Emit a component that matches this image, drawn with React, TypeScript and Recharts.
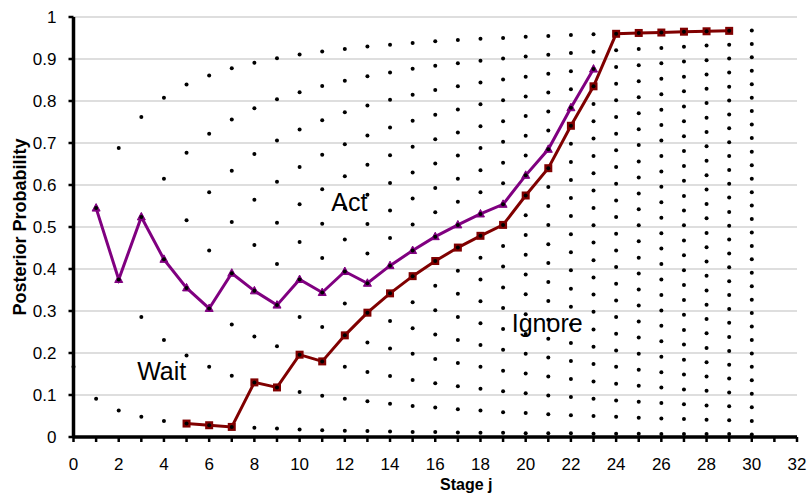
import React from 'react';
import { ComposedChart, Line, Scatter, XAxis, YAxis, CartesianGrid, ReferenceDot } from 'recharts';

// posterior probabilities reachable at each stage j (index = j)
const stageDots: number[][] = [
  [0.167],
  [0.091, 0.545],
  [0.063, 0.375, 0.688],
  [0.048, 0.286, 0.524, 0.762],
  [0.038, 0.231, 0.423, 0.615, 0.808],
  [0.032, 0.194, 0.355, 0.516, 0.677, 0.839],
  [0.028, 0.167, 0.306, 0.444, 0.583, 0.722, 0.861],
  [0.024, 0.146, 0.268, 0.39, 0.512, 0.634, 0.756, 0.878],
  [0.022, 0.13, 0.239, 0.348, 0.457, 0.565, 0.674, 0.783, 0.891],
  [0.02, 0.118, 0.216, 0.314, 0.412, 0.51, 0.608, 0.706, 0.804, 0.902],
  [0.018, 0.107, 0.196, 0.286, 0.375, 0.464, 0.554, 0.643, 0.732, 0.821, 0.911],
  [0.016, 0.098, 0.18, 0.262, 0.344, 0.426, 0.508, 0.59, 0.672, 0.754, 0.836, 0.918],
  [0.015, 0.091, 0.167, 0.242, 0.318, 0.394, 0.47, 0.545, 0.621, 0.697, 0.773, 0.848, 0.924],
  [0.014, 0.085, 0.155, 0.225, 0.296, 0.366, 0.437, 0.507, 0.577, 0.648, 0.718, 0.789, 0.859, 0.93],
  [0.013, 0.079, 0.145, 0.211, 0.276, 0.342, 0.408, 0.474, 0.539, 0.605, 0.671, 0.737, 0.803, 0.868, 0.934],
  [0.012, 0.074, 0.136, 0.198, 0.259, 0.321, 0.383, 0.444, 0.506, 0.568, 0.63, 0.691, 0.753, 0.815, 0.877, 0.938],
  [0.012, 0.07, 0.128, 0.186, 0.244, 0.302, 0.36, 0.419, 0.477, 0.535, 0.593, 0.651, 0.709, 0.767, 0.826, 0.884, 0.942],
  [0.011, 0.066, 0.121, 0.176, 0.231, 0.286, 0.341, 0.396, 0.451, 0.505, 0.56, 0.615, 0.67, 0.725, 0.78, 0.835, 0.89, 0.945],
  [0.01, 0.063, 0.115, 0.167, 0.219, 0.271, 0.323, 0.375, 0.427, 0.479, 0.531, 0.583, 0.635, 0.688, 0.74, 0.792, 0.844, 0.896, 0.948],
  [0.01, 0.059, 0.109, 0.158, 0.208, 0.257, 0.307, 0.356, 0.406, 0.455, 0.505, 0.554, 0.604, 0.653, 0.703, 0.752, 0.802, 0.851, 0.901, 0.95],
  [0.009, 0.057, 0.104, 0.151, 0.198, 0.245, 0.292, 0.34, 0.387, 0.434, 0.481, 0.528, 0.575, 0.623, 0.67, 0.717, 0.764, 0.811, 0.858, 0.906, 0.953],
  [0.009, 0.054, 0.099, 0.144, 0.189, 0.234, 0.279, 0.324, 0.369, 0.414, 0.459, 0.505, 0.55, 0.595, 0.64, 0.685, 0.73, 0.775, 0.82, 0.865, 0.91, 0.955],
  [0.009, 0.052, 0.095, 0.138, 0.181, 0.224, 0.267, 0.31, 0.353, 0.397, 0.44, 0.483, 0.526, 0.569, 0.612, 0.655, 0.698, 0.741, 0.784, 0.828, 0.871, 0.914, 0.957],
  [0.008, 0.05, 0.091, 0.132, 0.174, 0.215, 0.256, 0.298, 0.339, 0.38, 0.421, 0.463, 0.504, 0.545, 0.587, 0.628, 0.669, 0.711, 0.752, 0.793, 0.835, 0.876, 0.917, 0.959],
  [0.008, 0.048, 0.087, 0.127, 0.167, 0.206, 0.246, 0.286, 0.325, 0.365, 0.405, 0.444, 0.484, 0.524, 0.563, 0.603, 0.643, 0.683, 0.722, 0.762, 0.802, 0.841, 0.881, 0.921, 0.96],
  [0.008, 0.046, 0.084, 0.122, 0.16, 0.198, 0.237, 0.275, 0.313, 0.351, 0.389, 0.427, 0.466, 0.504, 0.542, 0.58, 0.618, 0.656, 0.695, 0.733, 0.771, 0.809, 0.847, 0.885, 0.924, 0.962],
  [0.007, 0.044, 0.081, 0.118, 0.154, 0.191, 0.228, 0.265, 0.301, 0.338, 0.375, 0.412, 0.449, 0.485, 0.522, 0.559, 0.596, 0.632, 0.669, 0.706, 0.743, 0.779, 0.816, 0.853, 0.89, 0.926, 0.963],
  [0.007, 0.043, 0.078, 0.113, 0.149, 0.184, 0.22, 0.255, 0.291, 0.326, 0.362, 0.397, 0.433, 0.468, 0.504, 0.539, 0.574, 0.61, 0.645, 0.681, 0.716, 0.752, 0.787, 0.823, 0.858, 0.894, 0.929, 0.965],
  [0.007, 0.041, 0.075, 0.11, 0.144, 0.178, 0.212, 0.247, 0.281, 0.315, 0.349, 0.384, 0.418, 0.452, 0.486, 0.521, 0.555, 0.589, 0.623, 0.658, 0.692, 0.726, 0.76, 0.795, 0.829, 0.863, 0.897, 0.932, 0.966],
  [0.007, 0.04, 0.073, 0.106, 0.139, 0.172, 0.205, 0.238, 0.272, 0.305, 0.338, 0.371, 0.404, 0.437, 0.47, 0.503, 0.536, 0.57, 0.603, 0.636, 0.669, 0.702, 0.735, 0.768, 0.801, 0.834, 0.868, 0.901, 0.934, 0.967],
  [0.006, 0.038, 0.071, 0.103, 0.135, 0.167, 0.199, 0.231, 0.263, 0.295, 0.327, 0.359, 0.391, 0.423, 0.455, 0.487, 0.519, 0.551, 0.583, 0.615, 0.647, 0.679, 0.712, 0.744, 0.776, 0.808, 0.84, 0.872, 0.904, 0.936, 0.968],
];

// upper threshold (purple, triangles)
const actStages = [1, 2, 3, 4, 5, 6, 7, 8, 9, 10, 11, 12, 13, 14, 15, 16, 17, 18, 19, 20, 21, 22, 23];
const actThreshold = [0.545, 0.375, 0.524, 0.423, 0.355, 0.306, 0.39, 0.348, 0.314, 0.375, 0.344, 0.394, 0.366, 0.408, 0.444, 0.477, 0.505, 0.531, 0.554, 0.623, 0.685, 0.784, 0.876];

// lower threshold (dark red, squares)
const ignoreStages = [5, 6, 7, 8, 9, 10, 11, 12, 13, 14, 15, 16, 17, 18, 19, 20, 21, 22, 23, 24, 25, 26, 27, 28, 29];
const ignoreThreshold = [0.032, 0.028, 0.024, 0.13, 0.118, 0.196, 0.18, 0.242, 0.296, 0.342, 0.383, 0.419, 0.451, 0.479, 0.505, 0.575, 0.64, 0.741, 0.835, 0.96, 0.962, 0.963, 0.965, 0.966, 0.967];

const xTicks = [0, 1, 2, 3, 4, 5, 6, 7, 8, 9, 10, 11, 12, 13, 14, 15, 16, 17, 18, 19, 20, 21, 22, 23, 24, 25, 26, 27, 28, 29, 30, 31, 32];
const yTicks = [0, 0.1, 0.2, 0.3, 0.4, 0.5, 0.6, 0.7, 0.8, 0.9, 1];

const regionNames = ['Act', 'Wait', 'Ignore'];
const regionStage = [12.2, 3.9, 20.95];
const regionProb = [0.56, 0.158, 0.27];

const FONT = '"Liberation Sans", Arial, sans-serif';

const dotData = stageDots.flatMap((vals, j) => vals.map(v => ({ x: j, y: v })));
const actData = actStages.map((s, i) => ({ x: s, y: actThreshold[i] }));
const ignoreData = ignoreStages.map((s, i) => ({ x: s, y: ignoreThreshold[i] }));

const Triangle = (p: any) => (
  <polygon
    key={`t-${p.index}`}
    points={`${p.cx},${p.cy - 4.5} ${p.cx - 4},${p.cy + 3} ${p.cx + 4},${p.cy + 3}`}
    fill="#800080"
    stroke="#800080"
  />
);

const Square = (p: any) => (
  <rect key={`s-${p.index}`} x={p.cx - 4} y={p.cy - 4} width={8} height={8} fill="#800000" />
);

const BlackDot = (p: any) => <circle cx={p.cx} cy={p.cy} r={2} fill="#000" />;

export default function App() {
  return (
    <div style={{ position: 'absolute', left: 0, top: 0, width: 809, height: 493, background: '#fff', fontFamily: FONT }}>
      <ComposedChart width={809} height={493} margin={{ top: 17, right: 12, bottom: 0, left: 0 }}>
        <CartesianGrid horizontal vertical={false} stroke="#bdbdbd" />
        <XAxis
          type="number"
          dataKey="x"
          domain={[0, 32]}
          ticks={xTicks}
          interval={0}
          height={56}
          tickFormatter={(v: number) => (v % 2 === 0 ? String(v) : '')}
          tick={{ fill: '#000', fontSize: 17, fontFamily: FONT }}
          tickSize={5}
          tickMargin={16}
          axisLine={{ stroke: '#000', strokeWidth: 3.5 }}
          tickLine={{ stroke: '#000', strokeWidth: 2.5 }}
          label={{
            content: ({ viewBox }: any) => (
              <text
                x={viewBox.x + viewBox.width / 2 + 31}
                y={489.5}
                textAnchor="middle"
                fontSize={16}
                fontWeight="bold"
                fontFamily={FONT}
                fill="#000"
              >
                Stage j
              </text>
            ),
          }}
        />
        <YAxis
          type="number"
          dataKey="y"
          domain={[0, 1]}
          ticks={yTicks}
          interval={0}
          width={73.5}
          tick={{ fill: '#000', fontSize: 17, fontFamily: FONT }}
          tickSize={5}
          tickMargin={12}
          axisLine={{ stroke: '#000', strokeWidth: 3.5 }}
          tickLine={{ stroke: '#000', strokeWidth: 2.5 }}
          label={{
            content: ({ viewBox }: any) => {
              const cx = 25.5;
              const cy = viewBox.y + viewBox.height / 2;
              return (
                <text
                  x={cx}
                  y={cy}
                  transform={`rotate(-90, ${cx}, ${cy})`}
                  textAnchor="middle"
                  fontSize={18}
                  fontWeight="bold"
                  fontFamily={FONT}
                  fill="#000"
                >
                  Posterior Probability
                </text>
              );
            },
          }}
        />
        <Line
          data={actData}
          dataKey="y"
          stroke="#800080"
          strokeWidth={3}
          dot={Triangle}
          activeDot={false}
          isAnimationActive={false}
        />
        <Line
          data={ignoreData}
          dataKey="y"
          stroke="#800000"
          strokeWidth={3}
          dot={Square}
          activeDot={false}
          isAnimationActive={false}
        />
        <Scatter data={dotData} dataKey="y" shape={BlackDot} isAnimationActive={false} />
        {regionNames.map((name, i) => (
          <ReferenceDot
            key={name}
            x={regionStage[i]}
            y={regionProb[i]}
            r={0}
            fill="none"
            stroke="none"
            label={{ value: name, position: 'center', fontSize: 25, fill: '#000', fontFamily: FONT }}
          />
        ))}
      </ComposedChart>
    </div>
  );
}
